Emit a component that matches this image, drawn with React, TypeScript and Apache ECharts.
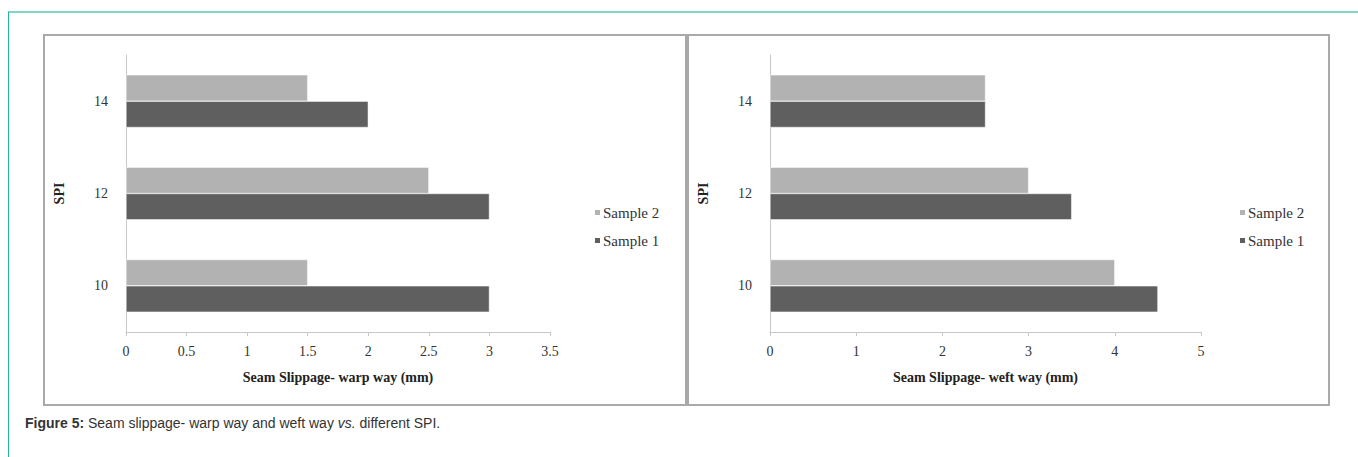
import React, { useEffect, useRef } from "react";
import * as echarts from "echarts";

const categories = ["10", "12", "14"];
const warpSample1 = [3, 3, 2];
const warpSample2 = [1.5, 2.5, 1.5];
const weftSample1 = [4.5, 3.5, 2.5];
const weftSample2 = [4, 3, 2.5];
const seriesNames = ["Sample 1", "Sample 2"];
const warpTitle = "Seam Slippage- warp way (mm)";
const weftTitle = "Seam Slippage- weft way (mm)";
const yTitle = "SPI";

const DARK = "#5f5f5f";
const LIGHT = "#b2b2b2";
const SERIF = "'Liberation Serif', 'Times New Roman', serif";

export default function App() {
  const ref = useRef<HTMLDivElement>(null);
  useEffect(() => {
    if (!ref.current) return;
    const chart = echarts.init(ref.current, undefined, { renderer: "svg" });
    const xAxisCommon = (max: number, interval: number, name: string, idx: number) => ({
      type: "value",
      gridIndex: idx,
      min: 0,
      max,
      interval,
      name,
      nameLocation: "middle",
      nameGap: 38,
      nameTextStyle: { fontFamily: SERIF, fontWeight: "bold", fontSize: 14, color: "#222" },
      axisLine: { show: true, lineStyle: { color: "#c8c8c8", width: 1 } },
      axisTick: { show: true, length: 4, lineStyle: { color: "#c8c8c8" } },
      axisLabel: { fontFamily: SERIF, fontSize: 14, color: "#333", margin: 12 },
      splitLine: { show: false },
    });
    const yAxisCommon = (idx: number) => ({
      type: "category",
      gridIndex: idx,
      data: categories,
      name: yTitle,
      nameLocation: "middle",
      nameGap: 60,
      nameRotate: 90,
      nameTextStyle: { fontFamily: SERIF, fontWeight: "bold", fontSize: 14, color: "#222" },
      axisLine: { show: true, lineStyle: { color: "#c8c8c8", width: 1 } },
      axisTick: { show: false },
      axisLabel: { fontFamily: SERIF, fontSize: 14, color: "#333", margin: 18 },
    });
    const bar = (name: string, data: number[], color: string, idx: number) => ({
      type: "bar",
      name,
      data,
      xAxisIndex: idx,
      yAxisIndex: idx,
      barGap: "0%",
      barCategoryGap: "43%",
      itemStyle: { color, borderColor: "#ffffff", borderWidth: 0.5 },
    });
    const legendCommon = (left: number) => ({
      orient: "vertical",
      left,
      top: 200,
      itemWidth: 7,
      itemHeight: 7,
      itemGap: 13,
      icon: "rect",
      selectedMode: false,
      data: [seriesNames[1], seriesNames[0]],
      textStyle: { fontFamily: SERIF, fontSize: 15, color: "#333", padding: [0, 0, 0, -3] },
    });
    chart.setOption({
      animation: false,
      backgroundColor: "#ffffff",
      grid: [
        { left: 126, top: 55, width: 424, height: 277, containLabel: false },
        { left: 770, top: 55, width: 431, height: 277, containLabel: false },
      ],
      xAxis: [xAxisCommon(3.5, 0.5, warpTitle, 0), xAxisCommon(5, 1, weftTitle, 1)],
      yAxis: [yAxisCommon(0), yAxisCommon(1)],
      legend: [legendCommon(588), legendCommon(1233)],
      series: [
        bar(seriesNames[1], warpSample2, LIGHT, 0),
        bar(seriesNames[0], warpSample1, DARK, 0),
        bar(seriesNames[1], weftSample2, LIGHT, 1),
        bar(seriesNames[0], weftSample1, DARK, 1),
      ],
      graphic: [
        { type: "line", shape: { x1: 8, y1: 12, x2: 1358, y2: 12 }, style: { stroke: "#80d5c8", lineWidth: 2 }, silent: true },
        { type: "line", shape: { x1: 8.5, y1: 12, x2: 8.5, y2: 457 }, style: { stroke: "#2ab49b", lineWidth: 1 }, silent: true },
        { type: "rect", shape: { x: 44, y: 35, width: 642, height: 370 }, style: { fill: "none", stroke: "#a9a9a9", lineWidth: 2 }, silent: true },
        { type: "rect", shape: { x: 688, y: 35, width: 641, height: 370 }, style: { fill: "none", stroke: "#a9a9a9", lineWidth: 2 }, silent: true },
        {
          type: "text",
          left: 25,
          top: 416,
          style: {
            text: "{b|Figure 5:} Seam slippage- warp way and weft way {i|vs.} different SPI.",
            font: "14px 'Liberation Sans', Arial, sans-serif",
            fill: "#333",
            rich: {
              b: { fontWeight: "bold", fontSize: 14, fontFamily: "'Liberation Sans', Arial, sans-serif", fill: "#333" },
              i: { fontStyle: "italic", fontSize: 14, fontFamily: "'Liberation Sans', Arial, sans-serif", fill: "#333" },
            },
          },
          silent: true,
        },
      ],
    });
    return () => chart.dispose();
  }, []);
  return (
    <div
      ref={ref}
      style={{ position: "absolute", left: 0, top: 0, width: 1358, height: 457 }}
    />
  );
}
